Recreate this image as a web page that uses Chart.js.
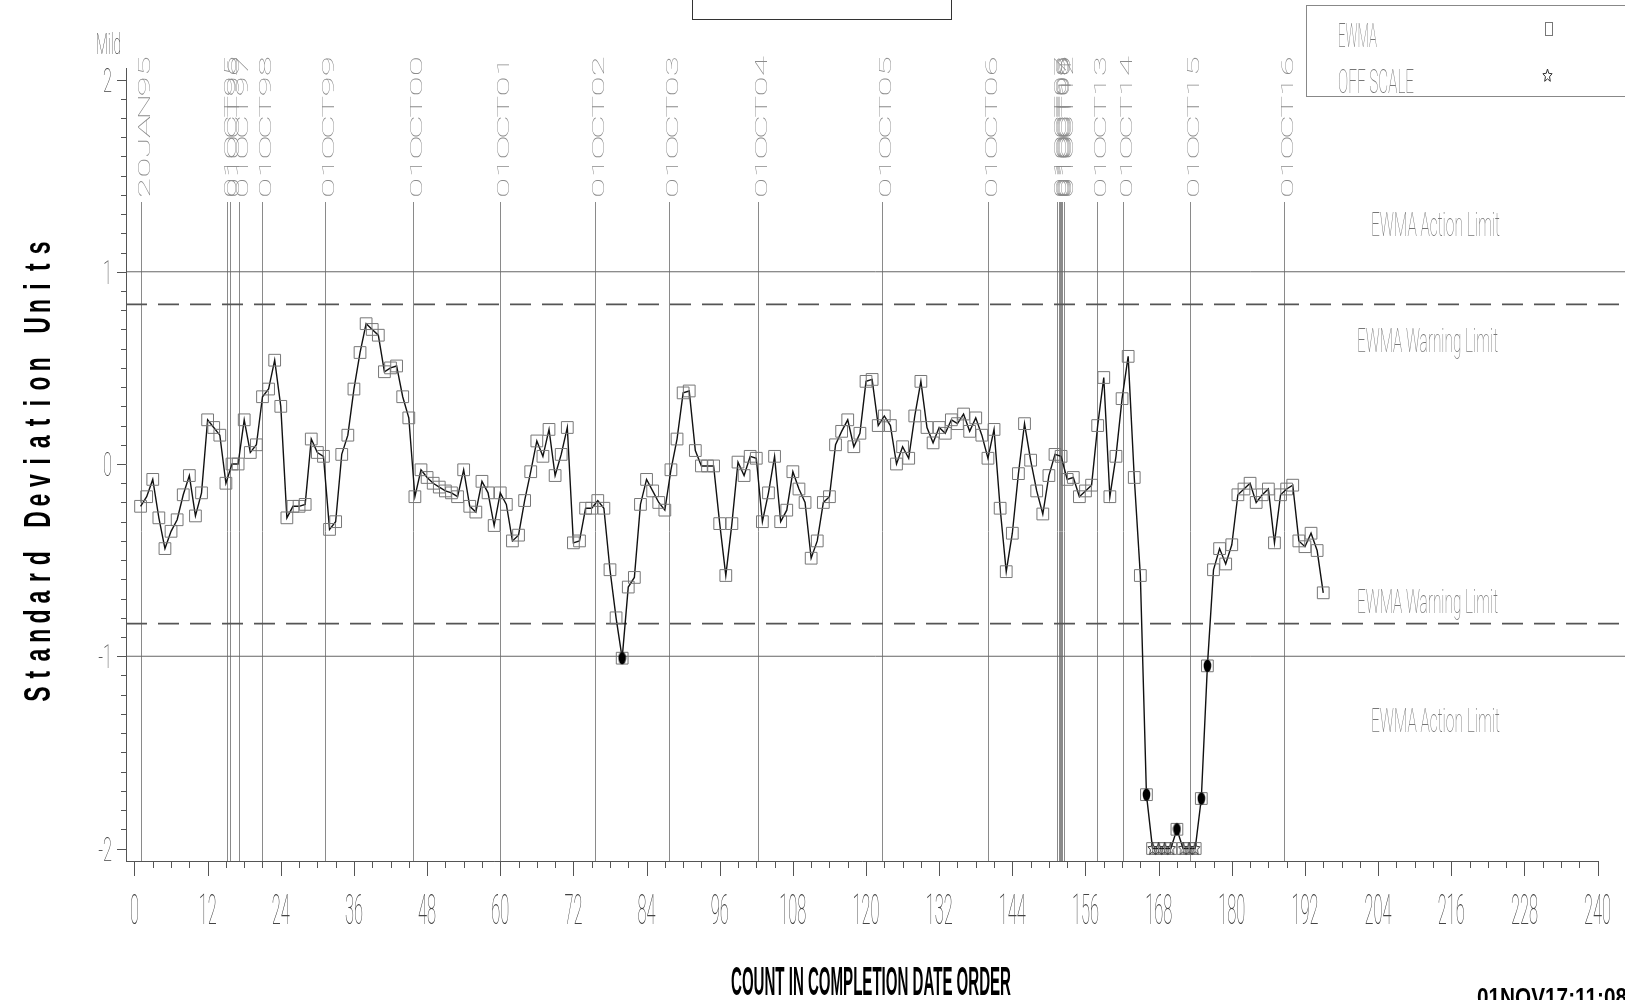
<!DOCTYPE html>
<html>
<head>
<meta charset="utf-8">
<script src="https://cdn.jsdelivr.net/npm/chart.js@4/dist/chart.umd.min.js"></script>
<style>
  html, body { margin: 0; padding: 0; background: #fff; }
  canvas { display: block; }
</style>
</head>
<body>
<canvas id="ewmaChart" width="1625" height="1000"></canvas>
<script>
// EWMA values in completion-date order (count 1..195), standard deviation units.
// Values at the axis floor (-2) are off scale.
const ewma = [
  -0.22, -0.17, -0.08, -0.28, -0.44, -0.35, -0.29, -0.16, -0.06, -0.27,
  -0.15, 0.23, 0.19, 0.15, -0.10, 0.00, 0.00, 0.23, 0.06, 0.10,
  0.35, 0.39, 0.54, 0.30, -0.28, -0.22, -0.22, -0.21, 0.13, 0.06,
  0.04, -0.34, -0.30, 0.05, 0.15, 0.39, 0.58, 0.73, 0.70, 0.67,
  0.48, 0.50, 0.51, 0.35, 0.24, -0.17, -0.03, -0.07, -0.10, -0.12,
  -0.14, -0.15, -0.17, -0.03, -0.22, -0.25, -0.09, -0.15, -0.32, -0.15,
  -0.21, -0.40, -0.37, -0.19, -0.04, 0.12, 0.04, 0.18, -0.06, 0.05,
  0.19, -0.41, -0.40, -0.23, -0.23, -0.19, -0.23, -0.55, -0.80, -1.01,
  -0.64, -0.59, -0.21, -0.08, -0.14, -0.20, -0.24, -0.03, 0.13, 0.37,
  0.38, 0.07, -0.01, -0.01, -0.01, -0.31, -0.58, -0.31, 0.01, -0.06,
  0.04, 0.03, -0.30, -0.15, 0.04, -0.30, -0.24, -0.04, -0.13, -0.20,
  -0.49, -0.40, -0.20, -0.17, 0.10, 0.17, 0.23, 0.09, 0.16, 0.43,
  0.44, 0.20, 0.25, 0.20, 0.00, 0.09, 0.03, 0.25, 0.43, 0.19,
  0.11, 0.19, 0.16, 0.23, 0.21, 0.26, 0.17, 0.24, 0.15, 0.03,
  0.18, -0.23, -0.56, -0.36, -0.05, 0.21, 0.02, -0.14, -0.26, -0.06,
  0.05, 0.04, -0.08, -0.07, -0.17, -0.14, -0.11, 0.20, 0.45, -0.17,
  0.04, 0.34, 0.56, -0.07, -0.58, -1.72, -2, -2, -2, -2,
  -1.90, -2, -2, -2, -1.74, -1.05, -0.55, -0.44, -0.52, -0.42,
  -0.16, -0.13, -0.10, -0.20, -0.16, -0.13, -0.41, -0.16, -0.13, -0.11,
  -0.40, -0.43, -0.36, -0.45, -0.67
];

// date reference lines (position on the count axis) and their labels
const dateLabels = ['20JAN95', '01OCT95', '01OCT96', '01OCT97', '01OCT98', '01OCT99',
  '01OCT00', '01OCT01', '01OCT02', '01OCT03', '01OCT04', '01OCT05', '01OCT06',
  '01OCT07', '01OCT08', '01OCT09', '01OCT10', '01OCT11', '01OCT12',
  '01OCT13', '01OCT14', '01OCT15', '01OCT16'];
const dateCounts = [1, 15.1, 15.6, 17.1, 20.9, 31.2,
  45.7, 59.9, 75.6, 87.6, 102.2, 122.7, 140.0,
  151.4, 151.6, 151.8, 152.0, 152.2, 152.4,
  157.9, 162.2, 173.2, 188.6];

const actionLimit = 1;
const warningLimit = 0.83;
const xTickLabels = [0, 12, 24, 36, 48, 60, 72, 84, 96, 108, 120, 132, 144, 156, 168, 180, 192, 204, 216, 228, 240];
const yTickLabels = [2, 1, 0, -1, -2];

const X_MIN = -1.39, X_MAX = 244.5;
const Y_MIN = -2.065, Y_MAX = 2.06;

const THIN = '"Roboto", "Liberation Sans", sans-serif';
const BOLD = '"Liberation Sans", "DejaVu Sans", sans-serif';

// marker images
function makeEllipse() {
  const c = document.createElement('canvas');
  c.width = 9; c.height = 14;
  const g = c.getContext('2d');
  g.fillStyle = '#000';
  g.beginPath(); g.ellipse(4.5, 7, 3.8, 6.2, 0, 0, Math.PI * 2); g.fill();
  return c;
}
function makeStar() {
  const c = document.createElement('canvas');
  c.width = 11; c.height = 15;
  const g = c.getContext('2d');
  g.strokeStyle = '#333'; g.lineWidth = 1;
  g.beginPath();
  for (let k = 0; k < 10; k++) {
    const a = -Math.PI / 2 + k * Math.PI / 5;
    const r = k % 2 ? 0.45 : 1;
    const px = 5.5 + Math.cos(a) * 4.8 * r, py = 7.8 + Math.sin(a) * 6.8 * r;
    k ? g.lineTo(px, py) : g.moveTo(px, py);
  }
  g.closePath(); g.stroke();
  return c;
}
const ellipseImg = makeEllipse();
const starImg = makeStar();

const points = ewma.map((v, i) => ({ x: i + 1, y: v }));
const breachPoints = points.filter(p => Math.abs(p.y) >= actionLimit && p.y > -2);
const offScalePoints = points.filter(p => p.y <= -2);

function limitLine(v, dash, color, w) {
  return {
    data: [{ x: X_MIN, y: v }, { x: X_MAX, y: v }],
    borderColor: color, borderWidth: w, borderDash: dash,
    pointRadius: 0, fill: false, order: 5
  };
}

// text helpers: narrow/wide fonts are obtained by scaling horizontally
function txt(ctx, s, x, y, o) {
  ctx.save();
  ctx.font = `${o.weight || 100} ${o.size}px ${o.family || THIN}`;
  const w = ctx.measureText(s).width;
  const sx = o.width ? o.width / w : (o.sx || 1);
  ctx.translate(x, y);
  if (o.rot) ctx.rotate(o.rot);
  ctx.scale(sx, 1);
  ctx.textAlign = o.align || 'left';
  ctx.textBaseline = 'alphabetic';
  ctx.fillStyle = o.color || '#000';
  ctx.fillText(s, 0, 0);
  ctx.restore();
}
function spacedVertical(ctx, s, baseX, firstY, pitch, o) {
  [...s].forEach((ch, k) => {
    if (ch === ' ') return;
    txt(ctx, ch, baseX, firstY - k * pitch, { ...o, align: 'center', rot: -Math.PI / 2 });
  });
}

const sasPlugin = {
  id: 'sasFrame',
  beforeDatasetsDraw(chart) {
    const { ctx, chartArea, scales: { x } } = chart;
    ctx.save();
    ctx.strokeStyle = '#8a8a8a';
    ctx.lineWidth = 1;
    dateCounts.forEach(c => {
      const px = Math.round(x.getPixelForValue(c)) + 0.5;
      ctx.beginPath(); ctx.moveTo(px, 202); ctx.lineTo(px, chartArea.bottom); ctx.stroke();
    });
    ctx.restore();
  },
  afterDatasetsDraw(chart) {
    const { ctx, chartArea, scales: { x, y } } = chart;
    const L = chartArea.left, B = chartArea.bottom;
    ctx.save();
    ctx.strokeStyle = '#555';
    ctx.lineWidth = 1;
    // y axis + ticks
    ctx.beginPath(); ctx.moveTo(L + 0.5, chartArea.top); ctx.lineTo(L + 0.5, B); ctx.stroke();
    for (let t = -20; t <= 20; t++) {
      const py = Math.round(y.getPixelForValue(t / 10)) + 0.5;
      const len = t % 10 === 0 ? 9 : 5;
      ctx.beginPath(); ctx.moveTo(L - len, py); ctx.lineTo(L, py); ctx.stroke();
    }
    // x axis + ticks
    const xEnd = x.getPixelForValue(240) + 1;
    ctx.beginPath(); ctx.moveTo(L, B + 0.5); ctx.lineTo(xEnd, B + 0.5); ctx.stroke();
    for (let t = 0; t <= 240; t += 3) {
      const px = Math.round(x.getPixelForValue(t)) + 0.5;
      const len = t % 12 === 0 ? 15 : 7;
      ctx.beginPath(); ctx.moveTo(px, B); ctx.lineTo(px, B + len); ctx.stroke();
    }
    ctx.restore();

    // tick labels
    ctx.save();
    ctx.font = `100 43px ${THIN}`;
    const xsx = 9 / ctx.measureText('0').width;
    ctx.font = `100 34px ${THIN}`;
    const ysx = 9 / ctx.measureText('0').width;
    ctx.restore();
    xTickLabels.forEach(v => {
      txt(ctx, String(v), x.getPixelForValue(v), 924, { size: 43, sx: xsx, align: 'center', color: '#444' });
    });
    yTickLabels.forEach(v => {
      txt(ctx, String(v), 112, y.getPixelForValue(v) + 12, { size: 34, sx: ysx, align: 'right', color: '#444' });
    });
    txt(ctx, 'Mild', 96, 54, { size: 30, width: 25, color: '#444' });

    // date labels (rotated, wide letters)
    dateLabels.forEach((s, i) => {
      const bx = x.getPixelForValue(dateCounts[i]) + 9;
      spacedVertical(ctx, s, bx, 188, 20.3, { size: 16, sx: 2.3, color: '#8c8c8c' });
    });

    // limit labels
    const lab = { size: 33, color: '#777' };
    txt(ctx, 'EWMA Action Limit', 1371, 236, { ...lab, width: 129 });
    txt(ctx, 'EWMA Warning Limit', 1357, 352, { ...lab, width: 141 });
    txt(ctx, 'EWMA Warning Limit', 1357, 613, { ...lab, width: 141 });
    txt(ctx, 'EWMA Action Limit', 1371, 732, { ...lab, width: 129 });

    // axis titles
    txt(ctx, 'COUNT IN COMPLETION DATE ORDER', 731, 995, { size: 40, weight: 700, family: BOLD, width: 280, color: '#000' });
    spacedVertical(ctx, 'Standard Deviation Units', 50, 694, 19.4, { size: 37, weight: 700, family: BOLD, sx: 0.62, color: '#000' });
    txt(ctx, '01NOV17:11:08', 1477, 1006, { size: 26, weight: 700, family: BOLD, width: 150, color: '#000' });

    // empty title box at top
    ctx.save();
    ctx.strokeStyle = '#333'; ctx.lineWidth = 1;
    ctx.strokeRect(692.5, -2, 259, 21.5);
    // legend box
    ctx.strokeStyle = '#888';
    ctx.strokeRect(1306.5, 5.5, 330, 91);
    ctx.restore();
    txt(ctx, 'EWMA', 1338, 47, { size: 33, width: 39, color: '#777' });
    txt(ctx, 'OFF SCALE', 1338, 93, { size: 33, width: 76, color: '#777' });
    ctx.save();
    ctx.strokeStyle = '#777'; ctx.lineWidth = 1;
    ctx.strokeRect(1545.5, 22.5, 7, 13);
    ctx.drawImage(starImg, 1542, 68);
    ctx.restore();
  }
};

new Chart(document.getElementById('ewmaChart'), {
  type: 'line',
  data: {
    datasets: [
      {
        label: 'EWMA',
        data: points,
        borderColor: '#111',
        borderWidth: 1.4,
        tension: 0,
        pointStyle: 'rect',
        pointRadius: 8.3,
        pointBorderColor: '#777',
        pointBorderWidth: 1,
        pointBackgroundColor: 'rgba(0,0,0,0)',
        order: 2
      },
      { data: breachPoints, showLine: false, pointStyle: ellipseImg, order: 1 },
      { data: offScalePoints, showLine: false, pointStyle: starImg, order: 1 },
      limitLine(actionLimit, [], '#666', 1),
      limitLine(-actionLimit, [], '#666', 1),
      limitLine(warningLimit, [21, 11], '#555', 1.8),
      limitLine(-warningLimit, [21, 11], '#555', 1.8)
    ]
  },
  options: {
    responsive: false,
    animation: false,
    devicePixelRatio: 1,
    layout: { autoPadding: false, padding: { left: 126, top: 68, right: 0, bottom: 139 } },
    plugins: { legend: { display: false }, tooltip: { enabled: false } },
    scales: {
      x: { type: 'linear', min: X_MIN, max: X_MAX, display: false },
      y: { type: 'linear', min: Y_MIN, max: Y_MAX, display: false }
    }
  },
  plugins: [sasPlugin]
});
</script>
</body>
</html>
